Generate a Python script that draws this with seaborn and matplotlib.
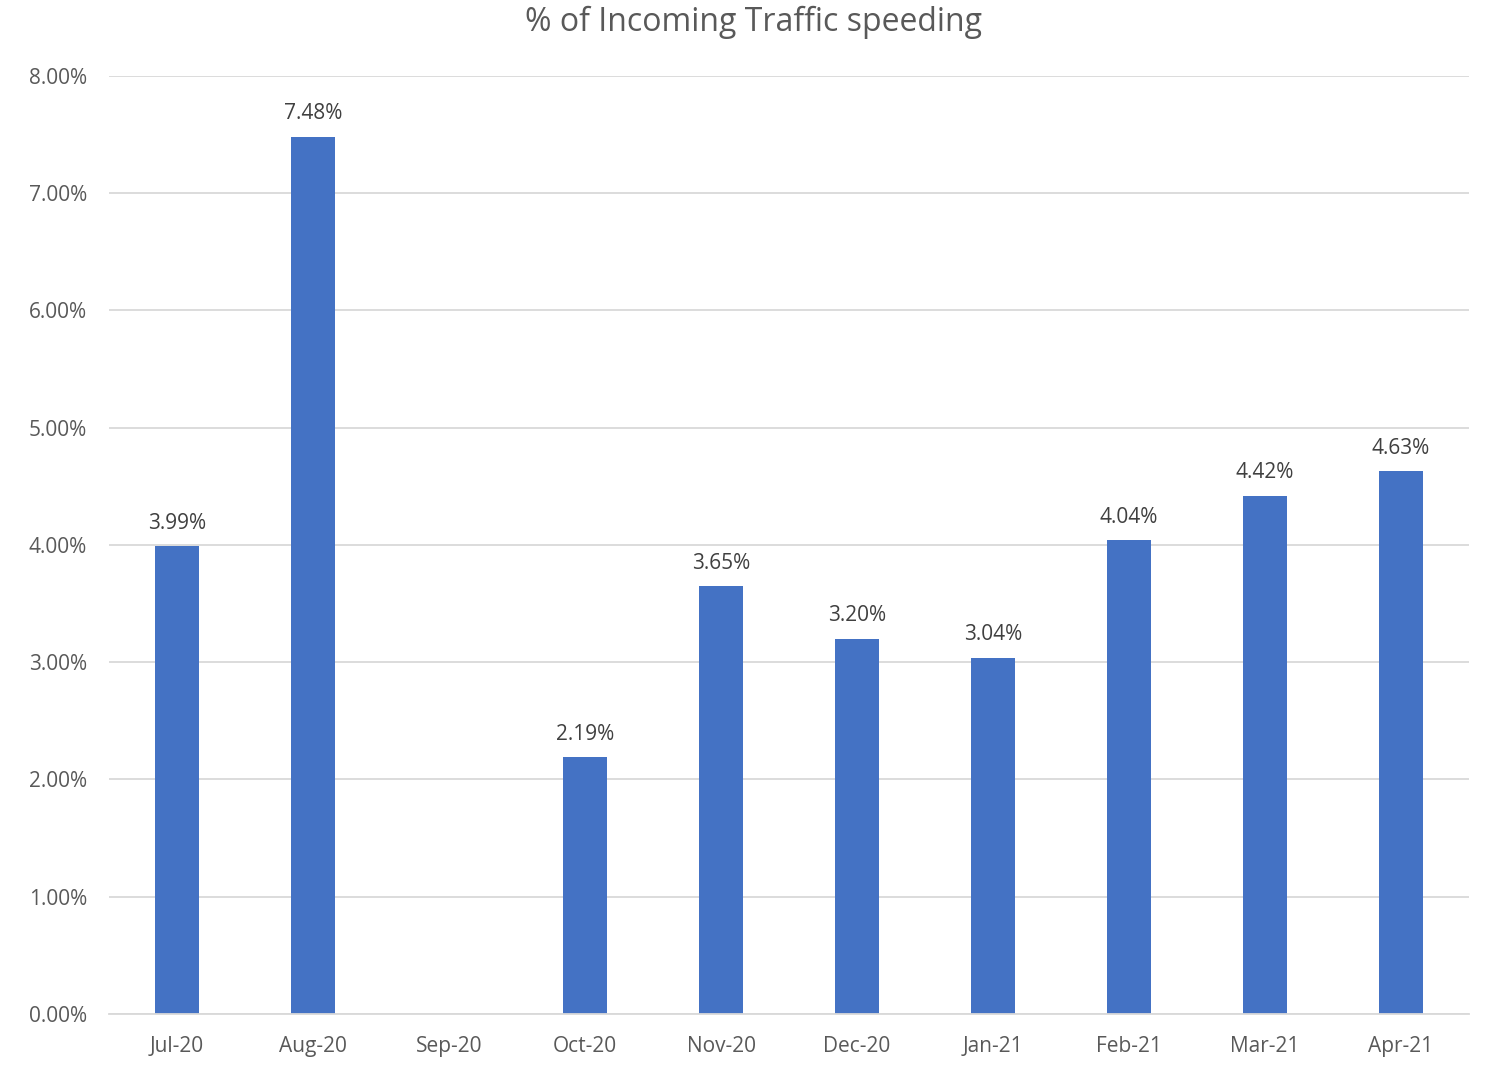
import numpy as np
import pandas as pd
import matplotlib
matplotlib.use("Agg")
import matplotlib.pyplot as plt
from matplotlib.ticker import FuncFormatter, FixedLocator
import seaborn as sns

# data
months = ["Jul-20", "Aug-20", "Sep-20", "Oct-20", "Nov-20",
          "Dec-20", "Jan-21", "Feb-21", "Mar-21", "Apr-21"]
pct_speeding = [3.99, 7.48, np.nan, 2.19, 3.65, 3.20, 3.04, 4.04, 4.42, 4.63]

df = pd.DataFrame({"month": months, "pct": pct_speeding})

sns.set_style("white")
plt.rcParams["font.family"] = ["Open Sans", "DejaVu Sans"]

fig = plt.figure(figsize=(14.86, 10.67), dpi=100)
ax = fig.add_axes([0.0734, 0.0497, 0.9152, 0.8791])

sns.barplot(data=df, x="month", y="pct", order=months, color="#4472C4",
            saturation=1, width=0.32, errorbar=None, linewidth=0, ax=ax)

# data labels on the bars that exist
for bar in ax.patches:
    h = bar.get_height()
    if np.isnan(h):
        continue
    ax.annotate(f"{h:.2f}%", (bar.get_x() + bar.get_width() / 2, h),
                xytext=(0, 9), textcoords="offset points",
                ha="center", va="bottom", fontsize=15, color="#404040")

ax.set_ylim(0, 8)
ax.set_xlim(-0.5, len(months) - 0.5)
ax.set_yticks(np.arange(0, 8.01, 1))
ax.yaxis.set_major_formatter(FuncFormatter(lambda v, p: f"{v:.2f}%"))
ax.yaxis.grid(True, color="#D9D9D9", linewidth=1.3)
ax.set_axisbelow(True)

for s in ["top", "right", "left"]:
    ax.spines[s].set_visible(False)
ax.spines["bottom"].set_color("#D9D9D9")
ax.spines["bottom"].set_linewidth(1.3)

ax.tick_params(axis="y", length=0, labelsize=15, labelcolor="#595959", pad=16)
ax.tick_params(axis="x", which="major", length=0, labelsize=15,
               labelcolor="#595959", pad=16)
ax.xaxis.set_minor_locator(FixedLocator(np.arange(-0.5, len(months), 1)))
ax.tick_params(axis="x", which="minor", length=8, width=1.3, color="#D9D9D9")

ax.set_xlabel("")
ax.set_ylabel("")
fig.text(0.507, 0.979, "% of Incoming Traffic speeding", fontsize=23,
         color="#595959", ha="center", va="center")

fig.savefig("out.png", dpi=100)
